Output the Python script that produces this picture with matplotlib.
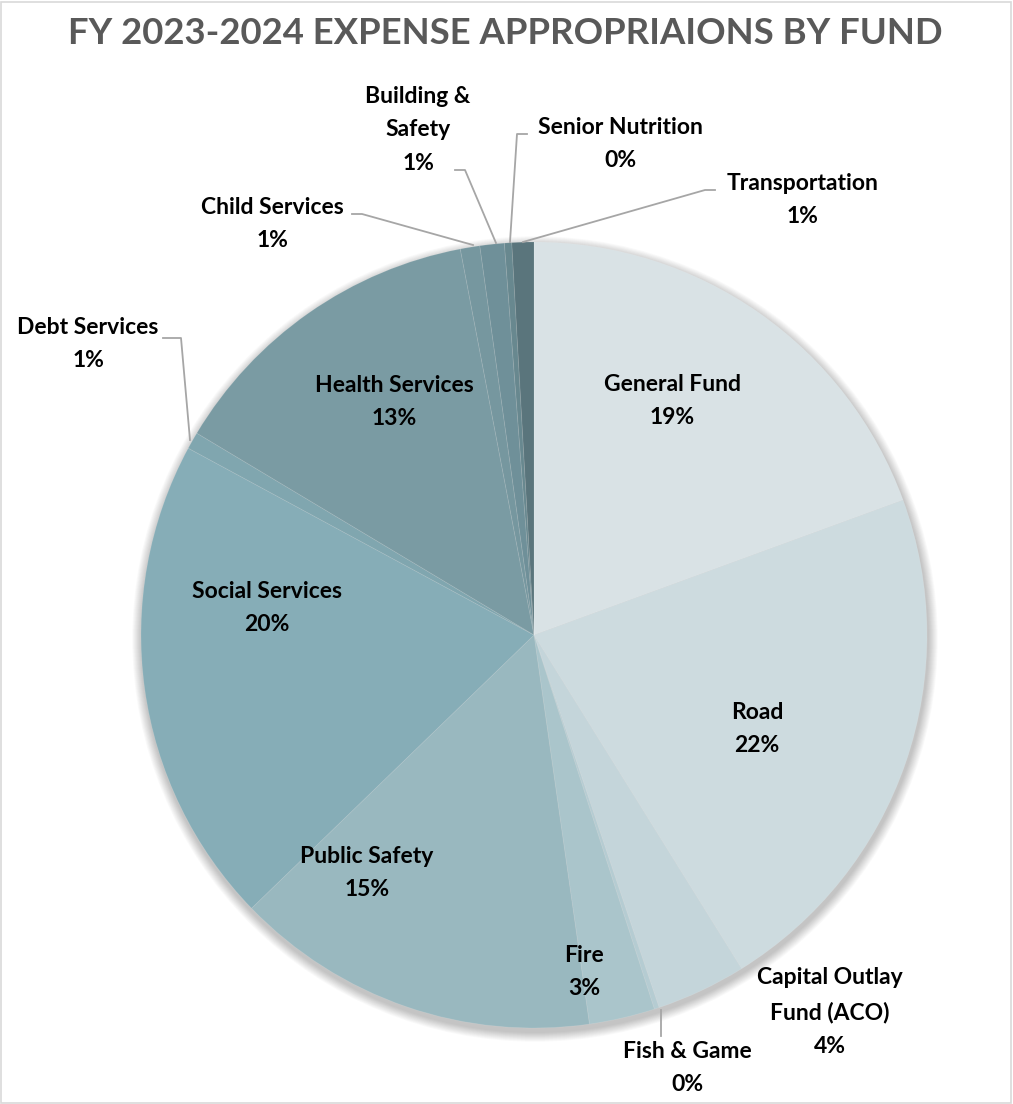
import matplotlib.pyplot as plt
from matplotlib.patches import Circle, Rectangle

# fund shares (percent)
funds = ["General Fund", "Road", "Capital Outlay\nFund (ACO)", "Fish & Game", "Fire",
         "Public Safety", "Social Services", "Debt Services", "Health Services",
         "Child Services", "Building &\nSafety", "Senior Nutrition", "Transportation"]
shares = [19.4, 21.7, 3.7, 0.2, 2.7, 15.0, 20.1, 0.7, 13.4, 0.8, 1.0, 0.3, 0.9]
colors = ["#d9e2e5", "#cddbdf", "#c4d5da", "#b5ccd2", "#aac5cb", "#99b8bf", "#86adb7",
          "#80a6af", "#7a9ba3", "#76979f", "#6f9099", "#68888f", "#5a757c"]

# label anchor (pixel coords, top-left origin) for each fund
label_x = [672, 757, 830, 687, 584, 367, 267, 88, 394, 272, 418, 620, 803]
label_y = [401, 729, 1012, 1068, 972, 873, 608, 344, 402, 224, 130, 144, 200]

# leader lines for the outside labels (pixel coords)
leaders = {
    "Debt Services": [(163, 338), (181, 338), (190, 440)],
    "Child Services": [(352, 214), (362, 214), (473, 245)],
    "Building &\nSafety": [(455, 170), (465, 170), (496, 243)],
    "Senior Nutrition": [(527, 134), (517, 134), (510, 242)],
    "Transportation": [(715, 190), (705, 190), (523, 242)],
    "Fish & Game": [(661, 1010), (661, 1036)],
}

W, H = 1013, 1104
cx, cy, r = 534, 635, 393

plt.rcParams['font.family'] = ['Lato', 'DejaVu Sans']

fig = plt.figure(figsize=(W / 100, H / 100), dpi=100)
ax = fig.add_axes([0, 0, 1, 1])
ax.set_xlim(0, W)
ax.set_ylim(0, H)
ax.axis("off")

# chart border
ax.add_patch(Rectangle((1, 1), W - 3, H - 3, fill=False, edgecolor="#d9d9d9", lw=1.2))

# soft shadow behind the pie
for k in range(12):
    ax.add_patch(Circle((cx + 1, H - cy - 4), r + 1 + k * 0.8, color="black",
                        alpha=0.02, lw=0, zorder=1))

ax.pie(shares, colors=colors, startangle=90, counterclock=False,
       center=(cx, H - cy), radius=r,
       wedgeprops=dict(edgecolor=(1, 1, 1, 0.12), linewidth=0.6, zorder=2))
ax.set_xlim(0, W)
ax.set_ylim(0, H)
ax.set_aspect("auto")

total = sum(shares)
for name, v, x, y in zip(funds, shares, label_x, label_y):
    pct = round(v / total * 100)
    ax.text(x, H - y, f"{name}\n{pct}%", ha="center", va="center",
            fontsize=16.5, fontweight="bold", color="black", linespacing=1.75, zorder=5)

for name, pts in leaders.items():
    xs = [p[0] for p in pts]
    ys = [H - p[1] for p in pts]
    ax.plot(xs, ys, color="#a6a6a6", lw=1.3, zorder=4)

ax.text(505, H - 33, "FY 2023-2024 EXPENSE APPROPRIAIONS BY FUND", ha="center",
        va="center", fontsize=26.3, fontweight="bold", color="#595959")

fig.savefig("out.png", dpi=100)
